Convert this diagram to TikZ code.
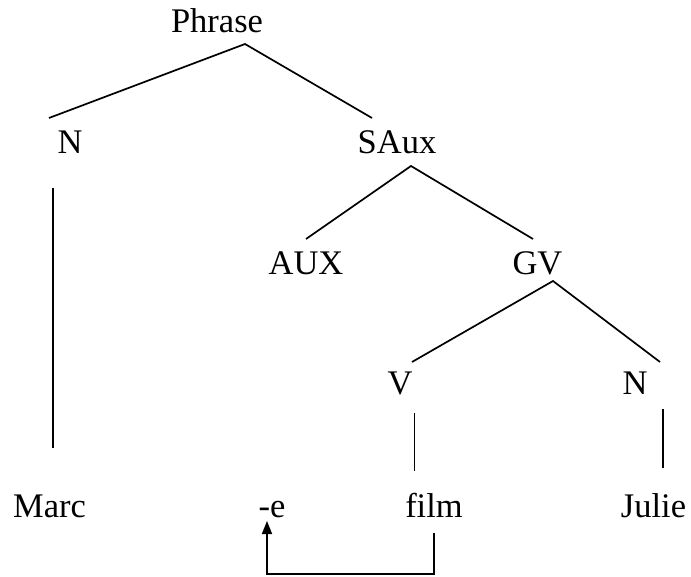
\documentclass[tikz,border=0pt]{standalone}
\usepackage{fontspec}
\setmainfont{Liberation Serif}
\usetikzlibrary{arrows.meta}
\begin{document}
\begin{tikzpicture}[x=1pt,y=-1pt,
  lbl/.style={anchor=base,inner sep=0pt,font=\fontsize{34.5}{40}\selectfont},
  branch/.style={line width=1.7pt,line cap=butt},
  movearrow/.style={line width=1.7pt,-{Triangle[length=13pt,width=10pt]}}]
\useasboundingbox (0,0) rectangle (691,577);
% labels
\node[lbl] (phrase) at (217,33) {Phrase};
\node[lbl] (n1) at (70,154) {N};
\node[lbl] (saux) at (397,154) {SAux};
\node[lbl] (aux) at (306,275) {AUX};
\node[lbl] (gv) at (537.5,275) {GV};
\node[lbl] (v) at (400,394) {V};
\node[lbl] (n2) at (635,394) {N};
\node[lbl] (marc) at (49.5,517) {Marc};
\node[lbl] (e) at (272,517) {-e};
\node[lbl] (film) at (434,517) {film};
\node[lbl] (julie) at (653.5,517) {Julie};
% line end points
\coordinate (phraseB) at (245,44);
\coordinate (n1T) at (49,118);
\coordinate (sauxT) at (372,118);
\coordinate (n1B) at (53,188);
\coordinate (marcT) at (53,448);
\coordinate (sauxB) at (411,166);
\coordinate (auxT) at (306,239);
\coordinate (gvT) at (533,239);
\coordinate (gvB) at (553,281);
\coordinate (vT) at (412,362);
\coordinate (n2T) at (660,362);
\coordinate (vB) at (414.5,413);
\coordinate (filmT) at (414.5,471);
\coordinate (n2B) at (663,409);
\coordinate (julieT) at (663,468);
\coordinate (filmB) at (434,533);
\coordinate (corner1) at (434,574);
\coordinate (corner2) at (267,574);
\coordinate (eB) at (267,521);
% tree branches
\draw[branch] (n1T) -- (phraseB) -- (sauxT);
\draw[branch] (n1B) -- (marcT);
\draw[branch] (auxT) -- (sauxB) -- (gvT);
\draw[branch] (vT) -- (gvB) -- (n2T);
\draw[branch] (vB) -- (filmT);
\draw[branch] (n2B) -- (julieT);
% movement arrow
\draw[movearrow] (filmB) -- (corner1) -- (corner2) -- (eB);
\end{tikzpicture}
\end{document}
